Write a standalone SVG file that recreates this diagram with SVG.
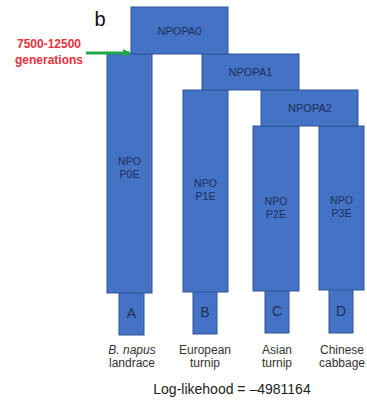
<svg xmlns="http://www.w3.org/2000/svg" width="367" height="402" viewBox="0 0 367 402">
<style>
.b{fill:#4472c4;stroke:#2f5597;stroke-width:1}
.t{font-family:"Liberation Sans",Arial,sans-serif;fill:#1f2f5c;text-anchor:middle;font-size:10.5px}
.h{font-family:"Liberation Sans",Arial,sans-serif;fill:#1f2f5c;text-anchor:middle;font-size:11px}
.k{font-family:"Liberation Sans",Arial,sans-serif;fill:#1f2f5c;text-anchor:middle;font-size:14px}
.l{font-family:"Liberation Sans",Arial,sans-serif;fill:#333;text-anchor:middle;font-size:12px}
.r{font-family:"Liberation Sans",Arial,sans-serif;fill:#e8313c;text-anchor:middle;font-size:12px;font-weight:bold}
</style>
<defs>
<marker id="ah" markerWidth="8" markerHeight="8" refX="7" refY="4" orient="auto" markerUnits="userSpaceOnUse"><path d="M0,0 L8,4 L0,8 Z" fill="#22a84a"/></marker>
</defs>
<rect width="367" height="402" fill="#fff"/>
<text x="100" y="26" font-family="Liberation Sans,Arial,sans-serif" font-size="20" fill="#111" text-anchor="middle">b</text>
<g id="A"><rect class="b" x="119" y="292" width="25" height="43"/><text class="k" x="131.5" y="318">A</text></g>
<g id="B"><rect class="b" x="193" y="291" width="24" height="43"/><text class="k" x="205" y="317">B</text></g>
<g id="C"><rect class="b" x="265" y="290" width="24" height="43"/><text class="k" x="277" y="316">C</text></g>
<g id="D"><rect class="b" x="329" y="289" width="24" height="44"/><text class="k" x="341" y="316">D</text></g>
<g id="P0E"><rect class="b" x="107" y="54" width="45" height="239"/><text class="t" x="129.5" y="165">NPO</text><text class="t" x="129.5" y="178">P0E</text></g>
<g id="P1E"><rect class="b" x="183" y="90" width="45" height="202"/><text class="t" x="205.5" y="187">NPO</text><text class="t" x="205.5" y="200">P1E</text></g>
<g id="P2E"><rect class="b" x="253" y="126" width="46" height="165"/><text class="t" x="276" y="205">NPO</text><text class="t" x="276" y="218">P2E</text></g>
<g id="P3E"><rect class="b" x="319" y="126" width="45" height="164"/><text class="t" x="341.5" y="204">NPO</text><text class="t" x="341.5" y="217">P3E</text></g>
<g id="NPOPA2"><rect class="b" x="261" y="90" width="97" height="36"/><text class="h" x="310" y="112">NPOPA2</text></g>
<g id="NPOPA1"><rect class="b" x="202" y="54" width="97" height="36"/><text class="h" x="250.5" y="76">NPOPA1</text></g>
<g id="NPOPA0"><rect class="b" x="131" y="7" width="97" height="47"/><text class="h" x="179.5" y="35">NPOPA0</text></g>
<g id="connectors"><line x1="86" y1="53" x2="130" y2="53" stroke="#22a84a" stroke-width="3" marker-end="url(#ah)"/></g>
<text class="r" x="49" y="48">7500-12500</text>
<text class="r" x="49" y="64">generations</text>
<text class="l" x="132" y="354"><tspan font-style="italic">B. napus</tspan></text>
<text class="l" x="132" y="367">landrace</text>
<text class="l" x="205" y="354">European</text>
<text class="l" x="205" y="367">turnip</text>
<text class="l" x="277" y="354">Asian</text>
<text class="l" x="277" y="367">turnip</text>
<text class="l" x="342" y="354">Chinese</text>
<text class="l" x="342" y="367">cabbage</text>
<text class="l" x="232" y="394" style="font-size:14px;fill:#222">Log-likehood = –4981164</text>
</svg>
